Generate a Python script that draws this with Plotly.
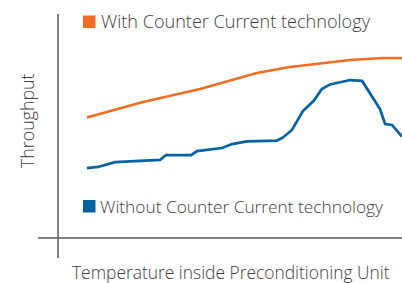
import plotly.graph_objects as go

# Data (arbitrary units: temperature 0-100, throughput 0-100)
temp_with = [8.4, 24.7, 41.3, 57.8, 67.4, 84.9, 94.5, 100]
thr_with = [54.8, 61.8, 67.7, 75.0, 77.7, 80.9, 81.8, 81.8]

temp_without = [8.4, 11.6, 16.6, 29.7, 31.4, 38.7, 40.4, 47.7, 50.6, 54.9, 63.7, 65.4,
                 68.0, 71.2, 74.4, 76.7, 79.1, 81.4, 84.9, 88.4, 91.6, 93.6, 95.1, 97.1, 100]
thr_without = [31.8, 32.3, 34.5, 35.5, 37.7, 37.7, 39.5, 40.9, 42.7, 43.9, 44.3, 45.7,
               49.1, 57.7, 62.5, 67.7, 69.8, 70.5, 71.8, 71.4, 63.6, 58.6, 51.8, 51.4, 46.1]

label_with = "With Counter Current technology"
label_without = "Without Counter Current technology"
x_title = "Temperature inside Preconditioning Unit"
y_title = "Throughput"

ORANGE = "#F36C21"
BLUE = "#0762A3"
TEXT = "#404040"
AXIS = "#5a5a5a"

W, H = 402, 283

fig = go.Figure()
fig.add_trace(go.Scatter(x=temp_with, y=thr_with, mode="lines",
                         line=dict(color=ORANGE, width=2.5), showlegend=False, hoverinfo="skip"))
fig.add_trace(go.Scatter(x=temp_without, y=thr_without, mode="lines",
                         line=dict(color=BLUE, width=2.7), showlegend=False, hoverinfo="skip"))

def px(v):
    return v / W

def py(v):
    return 1 - v / H

# Axis lines
fig.add_shape(type="line", xref="x", yref="y", x0=0, x1=0, y0=-9.1, y1=101.8,
              line=dict(color=AXIS, width=1.5))
fig.add_shape(type="line", xref="paper", yref="y", x0=px(38), x1=1, y0=0, y1=0,
              line=dict(color=AXIS, width=1.5))

# Legend squares
fig.add_shape(type="rect", xref="paper", yref="paper", x0=px(83), x1=px(95.5),
              y0=py(28), y1=py(15.5), fillcolor=ORANGE, line=dict(width=0))
fig.add_shape(type="rect", xref="paper", yref="paper", x0=px(83), x1=px(95.5),
              y0=py(212.5), y1=py(200), fillcolor=BLUE, line=dict(width=0))

font = dict(family="Open Sans", size=17.4, color=TEXT, weight=300)
fig.add_annotation(text=label_with, xref="paper", yref="paper", x=px(99), y=py(21.5),
                   xanchor="left", yanchor="middle", showarrow=False,
                   font=dict(font, size=18.1))
fig.add_annotation(text=label_without, xref="paper", yref="paper", x=px(98), y=py(206.5),
                   xanchor="left", yanchor="middle", showarrow=False,
                   font=dict(font, size=17.3))
fig.add_annotation(text=x_title, xref="paper", yref="paper", x=px(231), y=py(272),
                   xanchor="center", yanchor="middle", showarrow=False, font=font)
fig.add_annotation(text=y_title, xref="paper", yref="paper", x=px(27), y=py(121),
                   xanchor="center", yanchor="middle", showarrow=False, textangle=-90,
                   font=dict(font, size=17.8))

fig.update_layout(
    width=W, height=H,
    margin=dict(l=0, r=0, t=0, b=0),
    paper_bgcolor="white", plot_bgcolor="white",
    xaxis=dict(range=[-58 / 3.44, 100], visible=False, fixedrange=True),
    yaxis=dict(range=[-45 / 2.2, 238 / 2.2], visible=False, fixedrange=True),
)

fig.write_html("out.html", config={"displayModeBar": False},
               post_script="document.body.style.margin='0';document.body.style.overflow='hidden';")
